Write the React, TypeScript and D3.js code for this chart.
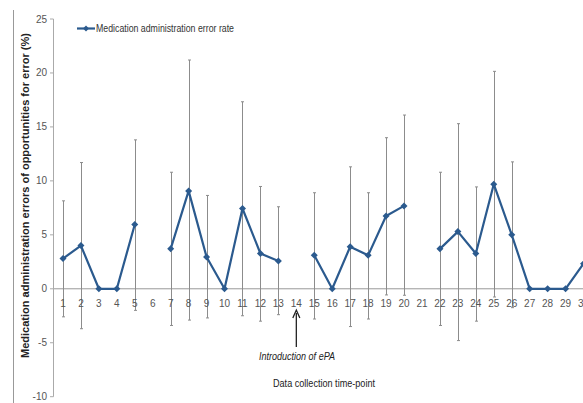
import * as d3 from "d3";

// time-points 1..30, null = no data collected
const timePoints = d3.range(1, 31);
const errorRate = [
  2.8, 4.0, 0, 0, 5.95, null, 3.7, 9.07, 2.95, 0,
  7.44, 3.27, 2.58, null, 3.1, 0, 3.9, 3.1, 6.75, 7.68,
  null, 3.7, 5.3, 3.27, 9.69, 5.0, 0, 0, 0, 2.33,
];
const upperBar = [
  8.15, 11.7, 0, 0, 13.8, null, 10.8, 21.2, 8.65, 0,
  17.33, 9.48, 7.6, null, 8.9, 0, 11.3, 8.9, 14.0, 16.1,
  null, 10.8, 15.3, 9.44, 20.15, 11.76, 0, 0, 0, 6.9,
];
const lowerBar = [
  -2.6, -3.7, 0, 0, -2.0, null, -3.4, -2.9, -2.7, 0,
  -2.5, -3.0, -2.4, null, -2.8, 0, -3.5, -2.8, -0.57, -0.6,
  null, -3.4, -4.8, -3.0, -0.76, -1.75, 0, 0, 0, -2.2,
];
const yTicks = [-10, -5, 0, 5, 10, 15, 20, 25];

const W = 583;
const H = 403;
const narrow = "'Liberation Sans Narrow', 'Liberation Sans', Arial, sans-serif";
const blue = "#2b5a8e";

export default function App() {
  const x = d3
    .scaleBand<number>()
    .domain(timePoints)
    .range([54, 54 + 30 * 17.95]);
  const y = d3.scaleLinear().domain([-10, 25]).range([396.7, 19]);
  const cx = (t: number) => (x(t) as number) + x.bandwidth() / 2;

  const pts = timePoints.map((t, i) => ({ t, v: errorRate[i], hi: upperBar[i], lo: lowerBar[i] }));

  const line = d3
    .line<{ t: number; v: number | null }>()
    .defined((d) => d.v !== null)
    .x((d) => cx(d.t))
    .y((d) => y(d.v as number));

  const diamond = (px: number, py: number, r: number) =>
    `M${px},${py - r}L${px + r},${py}L${px},${py + r}L${px - r},${py}Z`;

  return (
    <svg
      width={W}
      height={H}
      style={{ position: "absolute", left: 0, top: 0, background: "#fff" }}
    >
      {/* chart border */}
      <line x1={13.5} x2={13.5} y1={10} y2={H} stroke="#999" strokeWidth={1} />

      {/* y axis */}
      <line x1={53.5} x2={53.5} y1={y(25)} y2={y(-10)} stroke="#aaa" strokeWidth={1} />
      {yTicks.map((v) => (
        <g key={v}>
          <line x1={50} x2={53.5} y1={y(v)} y2={y(v)} stroke="#aaa" />
          <text
            x={47}
            y={y(v)}
            dy="0.35em"
            textAnchor="end"
            fontFamily={narrow}
            fontSize={10}
            fill="#555"
          >
            {v}
          </text>
        </g>
      ))}

      {/* zero line */}
      <line x1={54} x2={W} y1={y(0)} y2={y(0)} stroke="#999" strokeWidth={1} />

      {/* error bars */}
      {pts
        .filter((d) => d.hi !== null && d.lo !== null && d.hi !== d.lo)
        .map((d) => {
          const px = Math.round(cx(d.t)) + 0.5;
          return (
            <g key={d.t} stroke="#8c8c8c" strokeWidth={1}>
              <line x1={px} x2={px} y1={y(d.hi as number)} y2={y(d.lo as number)} />
              <line x1={px - 1.5} x2={px + 1.5} y1={y(d.hi as number)} y2={y(d.hi as number)} />
              <line x1={px - 1.5} x2={px + 1.5} y1={y(d.lo as number)} y2={y(d.lo as number)} />
            </g>
          );
        })}

      {/* x tick labels */}
      {timePoints.map((t) => (
        <text
          key={t}
          x={cx(t)}
          y={303}
          dy="0.35em"
          textAnchor="middle"
          fontFamily={narrow}
          fontSize={10}
          fill="#555"
        >
          {t}
        </text>
      ))}

      {/* series */}
      <path d={line(pts) || ""} fill="none" stroke={blue} strokeWidth={2.2} strokeLinejoin="round" />
      {pts
        .filter((d) => d.v !== null)
        .map((d) => (
          <path key={d.t} d={diamond(cx(d.t), y(d.v as number), 3.5)} fill={blue} />
        ))}

      {/* legend */}
      <line x1={77} x2={95} y1={28.5} y2={28.5} stroke={blue} strokeWidth={2.2} />
      <path d={diamond(86, 28.5, 3)} fill={blue} />
      <text
        x={96}
        y={28.5}
        dy="0.35em"
        fontFamily={narrow}
        fontSize={10.5}
        fill="#333"
        textLength={138}
        lengthAdjust="spacingAndGlyphs"
      >
        Medication administration error rate
      </text>

      {/* annotation */}
      <line x1={cx(14)} x2={cx(14)} y1={347} y2={313} stroke="#222" strokeWidth={1.3} />
      <path
        d={`M${cx(14) - 3.5},${318}L${cx(14)},${310}L${cx(14) + 3.5},${318}`}
        fill="none"
        stroke="#222"
        strokeWidth={1.3}
      />
      <text
        x={259}
        y={356}
        dy="0.35em"
        fontFamily={narrow}
        fontStyle="italic"
        fontSize={10.5}
        fill="#222"
        textLength={76}
        lengthAdjust="spacingAndGlyphs"
      >
        Introduction of ePA
      </text>

      {/* axis titles */}
      <text
        x={273}
        y={383}
        dy="0.35em"
        fontFamily={narrow}
        fontSize={10.5}
        fill="#222"
        textLength={102}
        lengthAdjust="spacingAndGlyphs"
      >
        Data collection time-point
      </text>
      <text
        transform="translate(25,358) rotate(-90)"
        dy="0.35em"
        fontFamily="'Liberation Sans', Arial, sans-serif"
        fontWeight="bold"
        fontSize={10.5}
        fill="#222"
        textLength={325}
        lengthAdjust="spacingAndGlyphs"
      >
        Medication administration errors of opportunities for error (%)
      </text>
    </svg>
  );
}
